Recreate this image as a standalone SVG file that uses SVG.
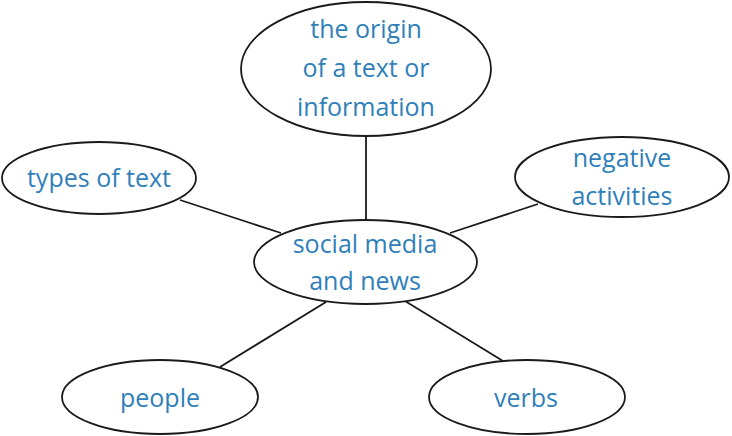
<svg xmlns="http://www.w3.org/2000/svg" width="732" height="436" viewBox="0 0 732 436">
<style>
.node ellipse{fill:#fff;stroke:#1a1a1a;stroke-width:1.8}
.node text{font-family:"Open Sans","Noto Sans",sans-serif;font-size:25px;fill:#2f80b9;text-anchor:middle}
#connectors line{stroke:#1a1a1a;stroke-width:1.8}
</style>
<rect width="732" height="436" fill="#fff"/>
<g id="connectors">
<line x1="366" y1="136" x2="366" y2="221"/>
<line x1="180" y1="200" x2="281" y2="233"/>
<line x1="538" y1="204" x2="450" y2="233"/>
<line x1="220" y1="367" x2="326" y2="302"/>
<line x1="405" y1="301" x2="503" y2="361"/>
</g>
<g id="node-origin" class="node">
<ellipse cx="366" cy="69" rx="125" ry="67"/>
<text x="366" y="38">the origin</text>
<text x="366" y="77">of a text or</text>
<text x="366" y="116">information</text>
</g>
<g id="node-types" class="node">
<ellipse cx="99" cy="178" rx="97" ry="36"/>
<text x="99" y="187">types of text</text>
</g>
<g id="node-negative" class="node">
<ellipse cx="622" cy="177" rx="107" ry="40"/>
<text x="622" y="167">negative</text>
<text x="622" y="205">activities</text>
</g>
<g id="node-center" class="node">
<ellipse cx="365.5" cy="262" rx="111.5" ry="42"/>
<text x="365" y="253">social media</text>
<text x="365" y="290">and news</text>
</g>
<g id="node-people" class="node">
<ellipse cx="160" cy="397" rx="98" ry="37"/>
<text x="160" y="407">people</text>
</g>
<g id="node-verbs" class="node">
<ellipse cx="527" cy="397" rx="98" ry="37"/>
<text x="526" y="407">verbs</text>
</g>
</svg>
